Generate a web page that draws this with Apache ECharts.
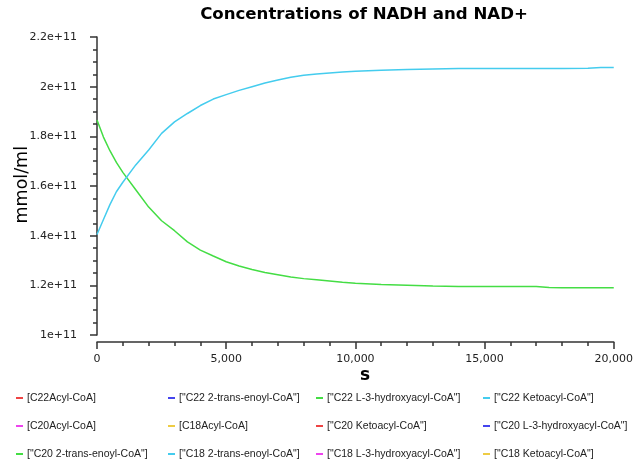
<!DOCTYPE html>
<html>
<head>
<meta charset="utf-8">
<script src="https://cdn.jsdelivr.net/npm/echarts@6/dist/echarts.min.js"></script>
<style>
  html, body { margin: 0; padding: 0; background: #ffffff; }
  #chart { width: 636px; height: 463px; }
</style>
</head>
<body>
<div id="chart"></div>
<script>
// Simulation time points (s)
const timeS = [0, 250, 500, 750, 1000, 1500, 2000, 2500, 3000, 3500, 4000, 4500, 5000,
  5500, 6000, 6500, 7000, 7500, 8000, 8500, 9000, 9500, 10000, 11000, 12000, 13000,
  14000, 15000, 16000, 17000, 17500, 18000, 19000, 19500, 20000];

// Decreasing trace (units of 1e11 mmol/ml)
const hydroxyacylC22 = [1.866, 1.797, 1.742, 1.695, 1.655, 1.585, 1.515, 1.460, 1.420, 1.375, 1.342, 1.318, 1.295,
  1.278, 1.264, 1.252, 1.243, 1.234, 1.227, 1.222, 1.217, 1.212, 1.208, 1.203, 1.200, 1.197,
  1.195, 1.195, 1.195, 1.195, 1.191, 1.190, 1.190, 1.190, 1.190];

// Increasing trace (units of 1e11 mmol/ml)
const ketoacylC22 = [1.405, 1.465, 1.525, 1.577, 1.615, 1.685, 1.745, 1.812, 1.858, 1.892, 1.924, 1.950, 1.968,
  1.985, 2.000, 2.015, 2.027, 2.038, 2.046, 2.051, 2.055, 2.059, 2.062, 2.066, 2.069, 2.071,
  2.073, 2.073, 2.073, 2.073, 2.073, 2.073, 2.074, 2.077, 2.077];

// Legend entries in display order (row by row)
const seriesNames = [
  '[C22Acyl-CoA]', '["C22 2-trans-enoyl-CoA"]', '["C22 L-3-hydroxyacyl-CoA"]', '["C22 Ketoacyl-CoA"]',
  '[C20Acyl-CoA]', '[C18Acyl-CoA]', '["C20 Ketoacyl-CoA"]', '["C20 L-3-hydroxyacyl-CoA"]',
  '["C20 2-trans-enoyl-CoA"]', '["C18 2-trans-enoyl-CoA"]', '["C18 L-3-hydroxyacyl-CoA"]', '["C18 Ketoacyl-CoA"]'
];
const palette = ['#ee4444', '#4444ee', '#44dd44', '#44ccee', '#ee44ee', '#eecc44'];

const yTicks = ['1e+11', '1.2e+11', '1.4e+11', '1.6e+11', '1.8e+11', '2e+11', '2.2e+11'];

const SCALE = 1e11;
const toPairs = (vals) => timeS.map((t, i) => [t, vals[i] * SCALE]);

const seriesData = {
  '["C22 L-3-hydroxyacyl-CoA"]': toPairs(hydroxyacylC22),
  '["C22 Ketoacyl-CoA"]': toPairs(ketoacylC22)
};

const chart = echarts.init(document.getElementById('chart'), null, { renderer: 'canvas' });

const FONT = 'DejaVu Sans';
const LEGEND_FONT = 'Liberation Sans';
const legendCols = [16, 168, 316, 483];
const legends = legendCols.map((left, c) => ({
  orient: 'vertical',
  left: left,
  top: 391,
  padding: 0,
  itemWidth: 7,
  itemHeight: 2,
  itemGap: 14,
  icon: 'rect',
  selectedMode: false,
  data: [0, 1, 2].map(r => seriesNames[r * 4 + c]),
  textStyle: { fontFamily: LEGEND_FONT, fontSize: 10.5, color: '#222', lineHeight: 14, padding: [0, 0, 0, -1] }
}));

chart.setOption({
  animation: false,
  backgroundColor: '#ffffff',
  color: palette,
  title: {
    text: 'Concentrations of NADH and NAD+',
    left: 364,
    top: 6,
    padding: 0,
    textAlign: 'center',
    textStyle: { fontFamily: FONT, fontSize: 16.6, fontWeight: 'bold', color: '#000' }
  },
  legend: legends,
  grid: { left: 97, right: 19, top: 37, bottom: 128, containLabel: false },
  xAxis: {
    type: 'value',
    min: 0,
    max: 20000,
    interval: 5000,
    offset: 7,
    splitLine: { show: false },
    axisLine: { show: true, onZero: false, lineStyle: { color: '#333', width: 1.5 } },
    axisTick: { show: true, length: 7, lineStyle: { color: '#333', width: 1.5 } },
    minorTick: { show: true, splitNumber: 5, length: 4, lineStyle: { color: '#333', width: 1.5 } },
    axisLabel: {
      margin: 12,
      fontFamily: FONT, fontSize: 11, color: '#222',
      formatter: (v) => v.toLocaleString('en-US')
    }
  },
  yAxis: {
    type: 'value',
    min: 1e11,
    max: 2.2e11,
    interval: 0.2e11,
    offset: 7,
    splitLine: { show: false },
    axisLine: { show: true, lineStyle: { color: '#333', width: 1.5 } },
    axisTick: { show: true, length: 7, lineStyle: { color: '#333', width: 1.5 } },
    minorTick: { show: true, splitNumber: 4, length: 4, lineStyle: { color: '#333', width: 1.5 } },
    axisLabel: {
      margin: 13,
      fontFamily: FONT, fontSize: 11, color: '#222',
      formatter: (v) => yTicks[Math.round((v - 1e11) / 0.2e11)]
    }
  },
  graphic: [
    {
      type: 'text', left: 13, top: 146, rotation: Math.PI / 2,
      style: { text: 'mmol/ml', fontFamily: FONT, fontSize: 17.5, fill: '#000' }
    },
    {
      type: 'text', x: 365, y: 376,
      style: { text: 's', fontFamily: FONT, fontSize: 17, fontWeight: 'bold', fill: '#000', align: 'center', verticalAlign: 'middle' }
    }
  ],
  series: seriesNames.map((name) => ({
    name: name,
    type: 'line',
    showSymbol: false,
    symbol: 'none',
    lineStyle: { width: 1.5 },
    data: seriesData[name] || []
  }))
});
</script>
</body>
</html>
